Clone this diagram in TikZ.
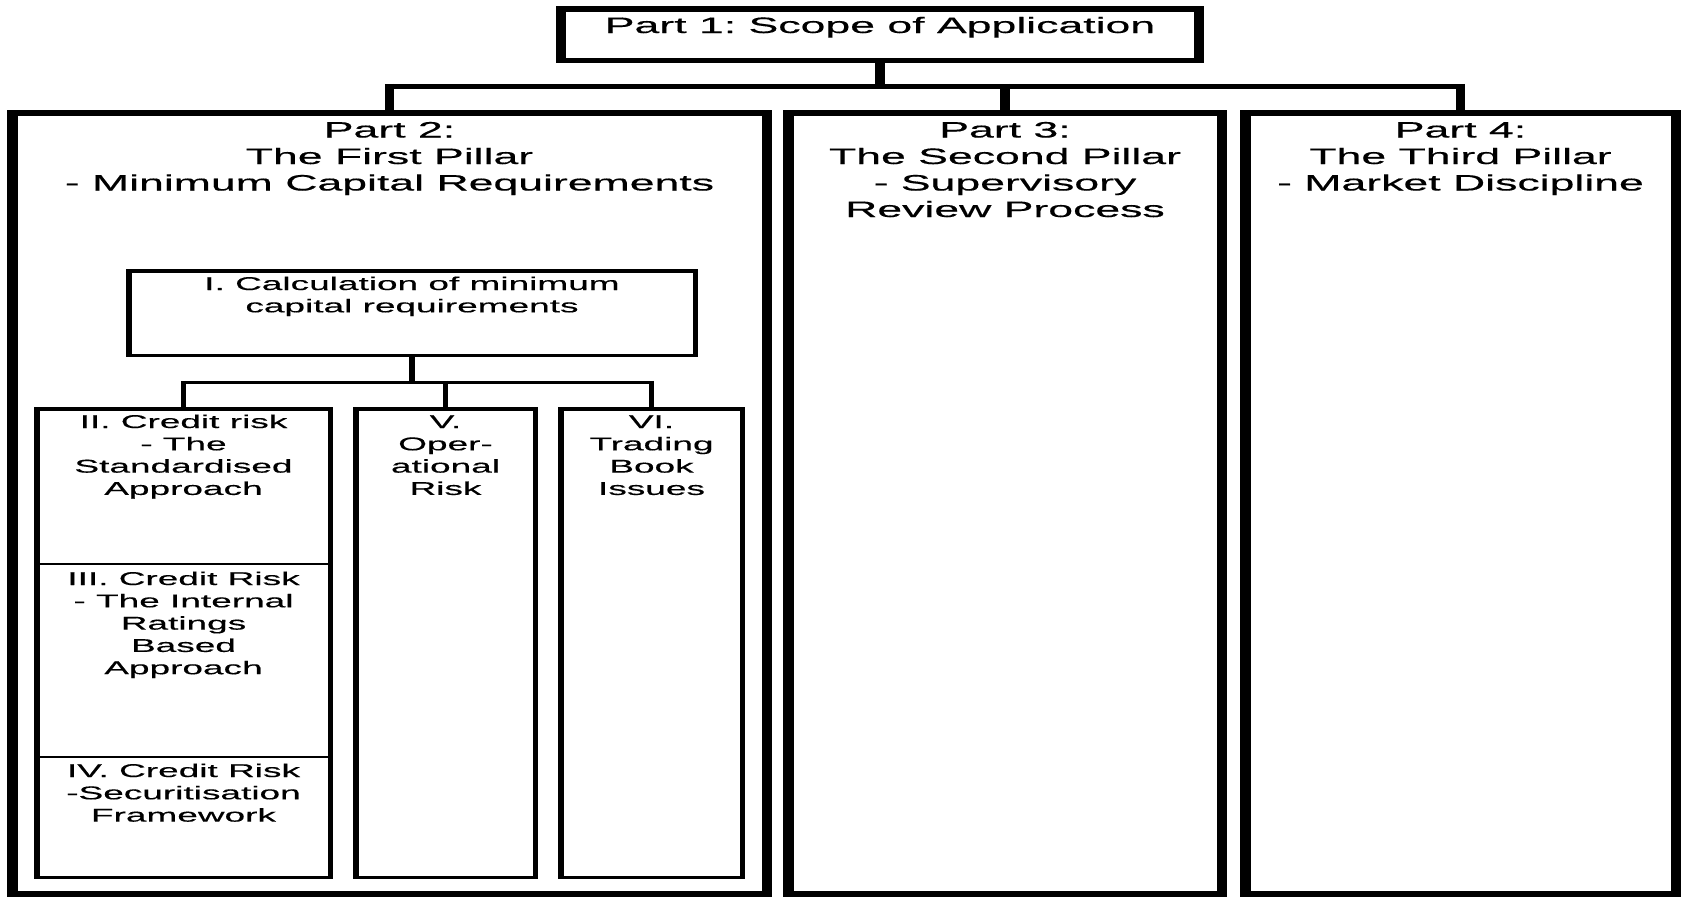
\documentclass[tikz,border=0pt]{standalone}
\usepackage{fontspec}
\setmainfont{Liberation Sans}[FakeStretch=2.0, FakeBold=0.4]
\frenchspacing
% centred stack of lines whose baseline is that of the first line
\newcommand\linesof[1]{\begin{tabular}[t]{@{}c@{}}#1\end{tabular}}
\begin{document}
\begin{tikzpicture}[x=1pt,y=-1pt,
  % box whose vertical sides (#1) are heavier than its horizontal sides (#2)
  boxframe/.style 2 args={fill=black, draw=none, inner sep=0pt, outer sep=0pt,
    path picture={\fill[white]
      ([xshift=#1pt,yshift=-#2pt]path picture bounding box.north west) rectangle
      ([xshift=-#1pt,yshift=#2pt]path picture bounding box.south east);}},
  partbox/.style={boxframe={10.5}{6}},
  headbox/.style={boxframe={10}{5.5}},
  subbox/.style={boxframe={5.5}{3.5}},
  bigtext/.style={anchor=base, inner sep=0pt, outer sep=0pt, font=\fontsize{22.3}{26.5}\selectfont},
  smalltext/.style={anchor=base, inner sep=0pt, outer sep=0pt, font=\fontsize{18.5}{22.3}\selectfont},
  stem/.style={line width=9.5pt, line cap=butt},
  bus/.style={line width=5.5pt, line cap=butt},
  substem/.style={line width=5.5pt, line cap=butt},
  subbus/.style={line width=3.5pt, line cap=butt},
  divider/.style={line width=2pt, line cap=butt},
]
\useasboundingbox (0,0) rectangle (1681,897);
\fill[white] (0,0) rectangle (1681,897);

% top level
\node[headbox, minimum width=648pt, minimum height=57pt] (p1) at (880,34.5) {};
\node[bigtext] (p1t) at (880,33) {Part 1: Scope of Application};

% the three pillars
\node[partbox, minimum width=765pt, minimum height=787pt] (p2) at (389.5,503.5) {};
\node[partbox, minimum width=444pt, minimum height=787pt] (p3) at (1005,503.5) {};
\node[partbox, minimum width=441pt, minimum height=787pt] (p4) at (1460.5,503.5) {};
\node[bigtext] (p2t) at (389.5,137.5) {\linesof{Part 2:\\The First Pillar\\- Minimum Capital Requirements}};
\node[bigtext] (p3t) at (1005,137.5) {\linesof{Part 3:\\The Second Pillar\\- Supervisory\\Review Process}};
\node[bigtext] (p4t) at (1460.5,137.5) {\linesof{Part 4:\\The Third Pillar\\- Market Discipline}};

% connectors of the top level
\coordinate (busy) at (880,86.5);
\draw[stem] (p1.south) -- (p1.south |- busy);
\draw[bus, shorten <=-4.75pt, shorten >=-4.75pt] (p2.north |- busy) -- (p4.north |- busy);
\foreach \p in {p2,p3,p4}
  \draw[stem, shorten <=-2.75pt] (\p.north |- busy) -- (\p.north);

% first pillar: calculation box and its three parts
\node[subbox, minimum width=572pt, minimum height=88pt] (calc) at (412,313) {};
\node[smalltext] (calct) at (412,290) {\linesof{I. Calculation of minimum\\capital requirements}};

\node[subbox, minimum width=299pt, minimum height=472pt] (credit) at (183.5,643) {};
\node[subbox, minimum width=185pt, minimum height=472pt] (oprisk) at (445.5,643) {};
\node[subbox, minimum width=187pt, minimum height=472pt] (trading) at (651.5,643) {};

\coordinate (div1) at (0,564);
\coordinate (div2) at (0,757);
\draw[divider] (credit.west |- div1) -- (credit.east |- div1);
\draw[divider] (credit.west |- div2) -- (credit.east |- div2);

\node[smalltext] (sa) at (183.5,428) {\linesof{II. Credit risk\\- The\\Standardised\\Approach}};
\node[smalltext] (irb) at (183.5,585) {\linesof{III. Credit Risk\\- The Internal\\Ratings\\Based\\Approach}};
\node[smalltext] (sec) at (183.5,777) {\linesof{IV. Credit Risk\\-Securitisation\\Framework}};
\node[smalltext] (opt) at (445.5,428) {\linesof{V.\\Oper-\\ational\\Risk}};
\node[smalltext] (trt) at (651.5,428) {\linesof{VI.\\Trading\\Book\\Issues}};

\coordinate (subbusy) at (412,382.5);
\draw[substem] (calc.south) -- (calc.south |- subbusy);
\draw[subbus, shorten <=-2.5pt, shorten >=-2.5pt] (credit.north |- subbusy) -- (trading.north |- subbusy);
\foreach \p in {credit,oprisk,trading}
  \draw[substem, shorten <=-1.75pt] (\p.north |- subbusy) -- (\p.north);
\end{tikzpicture}
\end{document}
